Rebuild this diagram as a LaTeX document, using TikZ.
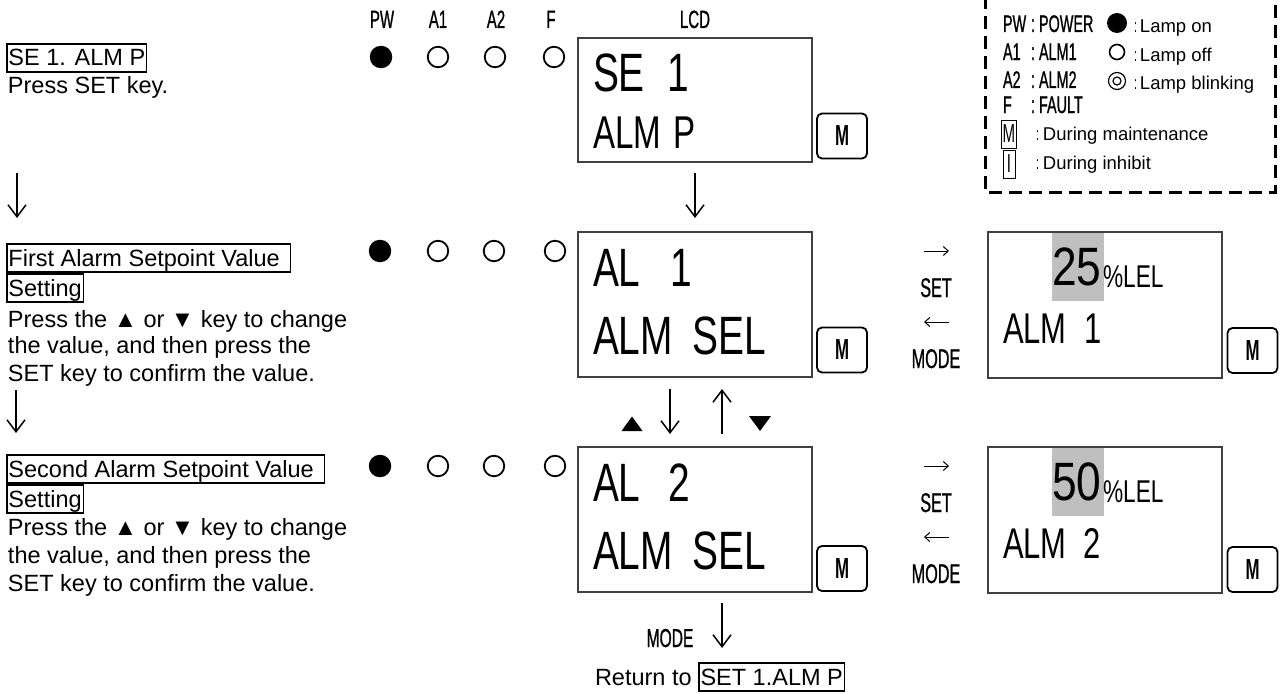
\documentclass[tikz,border=0pt]{standalone}
\usepackage{fontspec}
\setmainfont{Liberation Sans}
\newfontfamily\lcd[FakeStretch=0.72]{Liberation Sans}
\newfontfamily\lcdn[FakeStretch=0.58]{Liberation Sans}
\newfontfamily\lcdk[FakeStretch=0.6,FakeBold=0.8]{Liberation Sans}
\newfontfamily\lcdw[FakeStretch=0.82]{Liberation Sans}
\usetikzlibrary{arrows.meta}
\begin{document}
\begin{tikzpicture}[x=1pt,y=-1pt,
 every node/.style={inner sep=0pt, outer sep=0pt},
 body/.style={anchor=base west, font=\fontsize{23.5}{28}\selectfont},
 hdr/.style={body, draw, line width=1.2pt, inner xsep=1.5pt, inner ysep=1pt, text height=21pt, text depth=5pt},
 lampon/.style={circle, fill=black, minimum size=22.5pt},
 lampoff/.style={circle, draw=black, line width=1.8pt, minimum size=20.5pt},
 lbl/.style={anchor=base, font=\lcdk\fontsize{25}{25}\selectfont},
 lcdbox/.style={draw=black!75, line width=1.2pt, minimum width=234pt},
 big/.style={anchor=base west, font=\lcd\fontsize{54}{54}\selectfont},
 mid/.style={anchor=base west, font=\lcd\fontsize{46}{46}\selectfont},
 sml/.style={anchor=base west, font=\lcd\fontsize{43}{43}\selectfont},
 val/.style={anchor=base west, font=\lcdw\fontsize{54}{54}\selectfont},
 unit/.style={anchor=base west, font=\lcd\fontsize{31.5}{31.5}\selectfont},
 mbtn/.style={draw, line width=1.8pt, rounded corners=5pt, minimum width=50pt, minimum height=45pt, font=\lcdn\bfseries\fontsize{29}{29}\selectfont},
 arr/.style={line width=1.5pt, -{Straight Barb[length=12pt,width=18pt]}},
 sarr/.style={line width=1pt, -{Straight Barb[length=5pt,width=9pt]}},
 keylbl/.style={anchor=base, font=\lcdk\fontsize{27}{27}\selectfont},
 hl/.style={fill=black!25, minimum width=52pt, minimum height=69pt},
 leg/.style={anchor=base west, font=\fontsize{18.5}{22}\selectfont},
 legk/.style={anchor=base west, font=\lcdk\fontsize{24}{24}\selectfont},
 legbox/.style={draw, line width=0.8pt, inner xsep=1pt, inner ysep=1.5pt, font=\lcdn\fontsize{26}{26}\selectfont, minimum width=12pt, minimum height=28pt},
]
\useasboundingbox (0,0) rectangle (1284,693);

% ---------------- left column texts
\node[hdr] (h1) at (7,66) {SE 1. ALM P};
\node[body] (p1) at (8,93) {Press SET key.};
\coordinate (la1s) at (17,173);
\coordinate (la1e) at (17,218);
\draw[arr] (la1s) -- (la1e);

\node[hdr] (h2a) at (7,266) {First Alarm Setpoint Value\kern9pt};
\node[hdr] (h2b) at (7,296) {Setting};
\node[body] (p2a) at (8,327) {Press the ▲ or ▼ key to change};
\node[body] (p2b) at (8,353) {the value, and then press the};
\node[body] (p2c) at (8,381) {SET key to confirm the value.};
\coordinate (la2s) at (16,390);
\coordinate (la2e) at (16,433);
\draw[arr] (la2s) -- (la2e);

\node[hdr] (h3a) at (7,477) {Second Alarm Setpoint Value\kern9pt};
\node[hdr] (h3b) at (7,507) {Setting};
\node[body] (p3a) at (8,535) {Press the ▲ or ▼ key to change};
\node[body] (p3b) at (8,563) {the value, and then press the};
\node[body] (p3c) at (8,591) {SET key to confirm the value.};

% ---------------- lamp header
\node[lbl] (lPW) at (382,28) {PW};
\node[lbl] (lA1) at (438,28) {A1};
\node[lbl] (lA2) at (496,28) {A2};
\node[lbl] (lF) at (551,28) {F};
\node[lbl] (lLCD) at (695,28) {LCD};

% lamps
\node[lampon] (r1pw) at (381,57) {};
\node[lampoff] (r1a1) at (438,57) {};
\node[lampoff] (r1a2) at (495,57) {};
\node[lampoff] (r1f) at (554,57) {};
\node[lampon] (r2pw) at (380,251) {};
\node[lampoff] (r2a1) at (438,251) {};
\node[lampoff] (r2a2) at (494,251) {};
\node[lampoff] (r2f) at (555,251) {};
\node[lampon] (r3pw) at (380,466) {};
\node[lampoff] (r3a1) at (438,466) {};
\node[lampoff] (r3a2) at (494,466) {};
\node[lampoff] (r3f) at (555,466) {};

% ---------------- LCD column
\node[lcdbox, minimum height=124pt] (lcd1) at (695,100) {};
\node[big] (l1a) at (593,91) {SE\hspace{23pt}1};
\node[mid] (l1b) at (593,148) {ALM\hspace{12pt}P};
\node[mbtn] (m1) at (842,136) {M};

\node[lcdbox, minimum height=145pt] (lcd2) at (695,304.5) {};
\node[big] (l2a) at (593,286) {AL\hspace{30pt}1};
\node[big] (l2b) at (593,354) {ALM\hspace{20pt}SEL};
\node[mbtn] (m2) at (842,350) {M};

\node[lcdbox, minimum height=145pt] (lcd3) at (695,519.5) {};
\node[big] (l3a) at (593,501) {AL\hspace{28pt}2};
\node[big] (l3b) at (593,569) {ALM\hspace{20pt}SEL};
\node[mbtn] (m3) at (842,568.5) {M};

\draw[arr, shorten <=11pt, shorten >=14pt] (lcd1.south) -- (lcd2.north);
\draw[arr, shorten <=12pt, shorten >=13pt] ([xshift=-25pt]lcd2.south) -- ([xshift=-25pt]lcd3.north);
\draw[arr, shorten <=13pt, shorten >=12pt] ([xshift=27pt]lcd3.north) -- ([xshift=27pt]lcd2.south);
\fill (621.5,431) -- (642.5,431) -- (632,416.5) -- cycle;
\fill (749,416) -- (771,416) -- (760,431) -- cycle;

% bottom return
\coordinate (rend) at (722,648);
\draw[arr, shorten <=11pt] ([xshift=27pt]lcd3.south) -- (rend);
\node[keylbl, font=\lcdk\fontsize{26}{26}\selectfont] (bmode) at (670,647) {MODE};
\node[body] (ret) at (595,685) {Return to};
\node[hdr] (retbox) at (699,685) {SET 1.ALM P};

% ---------------- right LCDs
\node[hl] (hlA) at (1078,266.5) {};
\node[lcdbox, minimum height=146pt] (rA) at (1105,305) {};
\node[val] (vA) at (1052,285) {25};
\node[unit] (uA) at (1103,287) {\%LEL};
\node[sml] (nA) at (1003,343) {ALM\hspace{18pt}1};
\node[mbtn] (mA) at (1252.5,350.5) {M};

\node[hl] (hlB) at (1078,481.5) {};
\node[lcdbox, minimum height=146pt] (rB) at (1105,520) {};
\node[val] (vB) at (1052,500) {50};
\node[unit] (uB) at (1103,502) {\%LEL};
\node[sml] (nB) at (1003,558) {ALM\hspace{17pt}2};
\node[mbtn] (mB) at (1252.5,569.5) {M};

% SET / MODE between
\coordinate (s2a) at (924,251); \coordinate (s2b) at (949,251);
\coordinate (m2a) at (949,322); \coordinate (m2b) at (924,322);
\draw[sarr] (s2a) -- (s2b);
\draw[sarr] (m2a) -- (m2b);
\node[keylbl] (set2) at (936,297) {SET};
\node[keylbl] (mode2) at (936,368) {MODE};
\coordinate (s3a) at (924,466); \coordinate (s3b) at (949,466);
\coordinate (m3a) at (949,537); \coordinate (m3b) at (924,537);
\draw[sarr] (s3a) -- (s3b);
\draw[sarr] (m3a) -- (m3b);
\node[keylbl] (set3) at (936,512) {SET};
\node[keylbl] (mode3) at (936,583) {MODE};

% ---------------- legend
\draw[line width=3pt, dash pattern=on 13pt off 7pt] (985,-4) rectangle (1275,192);
\node[legk] (kPW) at (1003,32) {PW};
\node[legk] (vPW) at (1031,32) {:\hspace{4pt}POWER};
\node[legk] (kA1) at (1003,60) {A1};
\node[legk] (vA1) at (1031,60) {:\hspace{4pt}ALM1};
\node[legk] (kA2) at (1003,88) {A2};
\node[legk] (vA2) at (1031,88) {:\hspace{4pt}ALM2};
\node[legk] (kF) at (1003,113) {F};
\node[legk] (vF) at (1031,113) {:\hspace{4pt}FAULT};
\node[circle, fill=black, minimum size=20pt] (gon) at (1117,23) {};
\node[circle, draw, line width=1.6pt, minimum size=15pt] (goff) at (1117,52) {};
\node[circle, draw, line width=1.2pt, minimum size=17pt] (gbl) at (1117,81) {};
\node[circle, draw, line width=1.2pt, minimum size=8pt] (gbl2) at (1117,81) {};
\node[leg] (ton) at (1134,33) {{\lcdn :}\hspace{3pt}Lamp on};
\node[leg] (toff) at (1134,61) {{\lcdn :}\hspace{3pt}Lamp off};
\node[leg] (tbl) at (1134,89) {{\lcdn :}\hspace{3pt}Lamp blinking};
\node[legbox] (bM) at (1009,134) {M};
\node[legbox] (bI) at (1009,164) {I};
\node[leg] (tM) at (1036,140) {{\lcdn :}\hspace{4pt}During maintenance};
\node[leg] (tI) at (1036,169) {{\lcdn :}\hspace{4pt}During inhibit};
\end{tikzpicture}
\end{document}
